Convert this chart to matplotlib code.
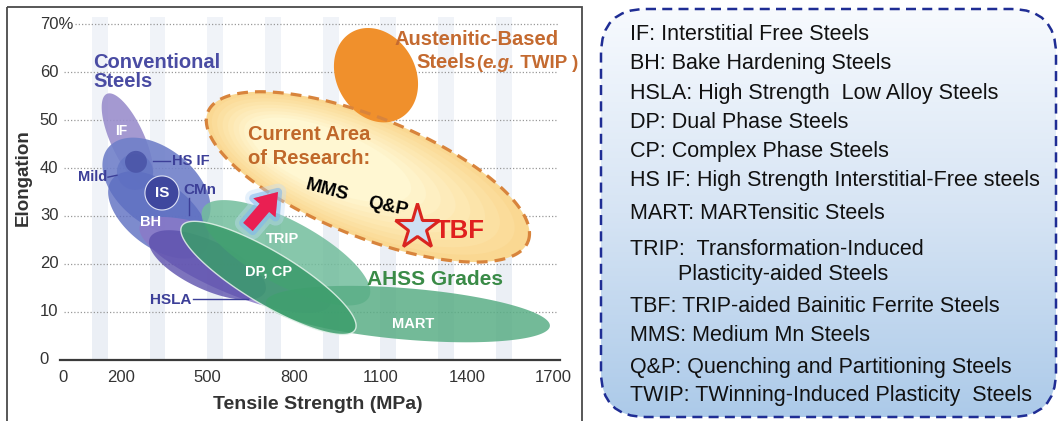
import numpy as np
import matplotlib
matplotlib.use("Agg")
import matplotlib.pyplot as plt
from matplotlib.patches import Polygon, Rectangle, FancyBboxPatch
import matplotlib.patheffects as pe

plt.rcParams['font.family'] = ['Liberation Sans', 'DejaVu Sans']

# axis ticks
x_ticks = [0, 200, 500, 800, 1100, 1400, 1700]
y_ticks = [0, 10, 20, 30, 40, 50, 60, 70]
y_tick_labels = ['0', '10', '20', '30', '40', '50', '60', '70%']
stripe_starts = [100, 300, 500, 700, 900, 1100, 1300, 1500]
stripe_width = 55

# steel families: long axis from (uts1, el1) to (uts2, el2), thickness = ratio * length
reg_names = ['Current', 'Austenitic', 'IF', 'Mild', 'HS IF ring', 'BH', 'HS IF', 'IS',
             'HSLA', 'HSLA core', 'TRIP', 'MART', 'DP, CP']
reg_uts1 = [502, 1001, 152, 156, 187, 170, 215, 284, 267, 301, 485, 703, 412]
reg_el1 = [51.7, 68.4, 55.5, 44.2, 39.2, 37.6, 41.3, 34.8, 28.1, 25.4, 31.6, 12.0, 27.9]
reg_uts2 = [1611, 1168, 295, 492, 312, 492, 291, 402, 925, 700, 1060, 1687, 1012]
reg_el2 = [24.6, 50.4, 36.5, 28.1, 39.2, 22.8, 41.3, 34.8, 11.4, 14.1, 13.0, 7.0, 6.2]
reg_ratio = [0.345, 0.8, 0.34, 0.62, 1.0, 0.55, 1.0, 1.0, 0.28, 0.38, 0.34, 0.18, 0.26]

# research targets
arrow_from = (641, 27.7)
arrow_to = (745, 35.0)
tbf_point = (1227, 27.7)

legend_lines = [
    'IF: Interstitial Free Steels',
    'BH: Bake Hardening Steels',
    'HSLA: High Strength  Low Alloy Steels',
    'DP: Dual Phase Steels',
    'CP: Complex Phase Steels',
    'HS IF: High Strength Interstitial-Free steels',
    'MART: MARTensitic Steels',
    'TRIP:  Transformation-Induced',
    '        Plasticity-aided Steels',
    'TBF: TRIP-aided Bainitic Ferrite Steels',
    'MMS: Medium Mn Steels',
    'Q&P: Quenching and Partitioning Steels',
    'TWIP: TWinning-Induced Plasticity  Steels',
]
legend_y = [32, 61, 91, 120, 149, 178, 211, 247, 272, 304, 333, 365, 393]

W, H = 1060, 421
fig = plt.figure(figsize=(W / 100, H / 100), dpi=100)
deco = fig.add_axes([0, 0, 1, 1], zorder=0)
ax = fig.add_axes([34.1 / W, (H - 373.9) / H, 548.4 / W, 363.8 / H], zorder=1)
ax.set_xlim(-100, 1800)
ax.set_ylim(-3, 73)
ax.axis('off')


def region(i, scale=1.0, shift=(0, 0), **kw):
    p = np.array([[reg_uts1[i], reg_el1[i]], [reg_uts2[i], reg_el2[i]]], float)
    mid = p.mean(axis=0)
    p = mid + scale * (p - mid) + np.array(shift)
    a = ax.transData.transform(p)
    c = a.mean(axis=0)
    d = a[1] - a[0]
    L = np.hypot(d[0], d[1]) / 2
    ang = np.arctan2(d[1], d[0])
    t = np.linspace(0, 2 * np.pi, 240)
    x = L * np.cos(t)
    y = reg_ratio[i] * L * np.sin(t)
    pts = np.column_stack([c[0] + x * np.cos(ang) - y * np.sin(ang),
                           c[1] + x * np.sin(ang) + y * np.cos(ang)])
    poly = Polygon(ax.transData.inverted().transform(pts), closed=True, **kw)
    ax.add_patch(poly)
    return poly


# background stripes + grid
for s in stripe_starts:
    ax.fill_between([s, s + stripe_width], 0, 71.5, color='#f0f3f8', lw=0, zorder=0.5)
    ax.fill_between([s, s + stripe_width], 0, 30, color='#ebeff5', lw=0, zorder=0.5)
for yv in y_ticks[1:]:
    ax.plot([40 if yv == 70 else 5, 1715], [yv, yv], ls=(0, (1, 1.6)), color='#999999',
            lw=0.9, zorder=1)
ax.plot([-10, 1722], [0, 0], color='#3a3a3a', lw=1.6, zorder=1, clip_on=False)
for xv in x_ticks:
    ax.text(xv, -3.7, str(xv), ha='center', va='center', fontsize=12, color='#333333')
for yv, lab in zip(y_ticks, y_tick_labels):
    ax.text(-80, yv, lab, ha='left', va='center', fontsize=12, color='#333333')
ax.text(884, -9.3, 'Tensile Strength (MPa)', ha='center', va='center', fontsize=14,
        fontweight='bold', color='#333333')
ax.text(-139, 38.1, 'Elongation', ha='center', va='center', rotation=90, fontsize=13.5,
        fontweight='bold', color='#333333')

# current area of research, glowing fill
edge_c = np.array([250, 216, 146]) / 255
core_c = np.array([255, 247, 210]) / 255
n = 9
for k in range(n):
    f = k / (n - 1)
    region(0, scale=1 - 0.5 * f, shift=(-130 * f, 3.5 * f),
           fc=tuple(edge_c + (core_c - edge_c) * f), ec='none', zorder=2)
region(0, fill=False, ec='#d8843c', lw=2.3, ls=(0, (3.4, 2.2)), zorder=2.5)

region(1, fc='#f0902c', ec='none', zorder=2)

styles = {
    'IF': dict(fc='#9a8ecc', alpha=0.9),
    'Mild': dict(fc='#7080c9', alpha=0.9),
    'HS IF ring': dict(fc='#6274c3', alpha=0.7),
    'BH': dict(fc='#5d6ec1', alpha=0.8),
    'HS IF': dict(fc='#4b55a8', alpha=0.9),
    'IS': dict(fc='#3f479e', ec='#dfe3f5', lw=0.8),
    'HSLA': dict(fc='#8b7ac8', alpha=0.85),
    'HSLA core': dict(fc='#5d51ad', alpha=0.8),
    'TRIP': dict(fc='#72bd9c', alpha=0.85),
    'MART': dict(fc='#5aae86', alpha=0.85),
    'DP, CP': dict(fc='#3b9d6b', alpha=0.85, ec='#e6f4ec', lw=1.0),
}
for i, name in enumerate(reg_names[2:], start=2):
    st = dict(ec='none')
    st.update(styles[name])
    region(i, zorder=3 + i * 0.01, **st)

# arrow and star
ax.annotate('', xy=arrow_to, xytext=arrow_from, zorder=6,
            arrowprops=dict(arrowstyle='simple,head_length=0.75,head_width=1.05,tail_width=0.45',
                            fc='#ea1f52', ec='none', mutation_scale=20, shrinkA=0, shrinkB=0,
                            path_effects=[pe.Stroke(linewidth=12, foreground='#c2ddf6', alpha=0.4),
                                          pe.Stroke(linewidth=6, foreground='#7db6ee', alpha=0.55),
                                          pe.Normal()]))
ax.plot([tbf_point[0]], [tbf_point[1]], marker='*', ms=34, mfc='#cde0f3', mec='#d9241f',
        mew=2.2, zorder=7)

# labels on the chart
blue = '#3c3f98'
bold = dict(fontweight='bold')
ax.text(104, 62.0, 'Conventional', color='#4a4ca3', fontsize=14.5, va='center', zorder=8, **bold)
ax.text(104, 58.0, 'Steels', color='#4a4ca3', fontsize=14.5, va='center', zorder=8, **bold)
ax.text(201, 47.7, 'IF', color='white', fontsize=10, ha='center', va='center', zorder=8, **bold)
ax.text(378, 41.5, 'HS IF', color=blue, fontsize=10.5, va='center', zorder=8, **bold)
ax.plot([312, 371], [41.5, 41.5], color=blue, lw=1, zorder=8)
ax.text(52, 38.1, 'Mild', color=blue, fontsize=10.5, va='center', zorder=8, **bold)
ax.plot([156, 187], [38.1, 38.5], color=blue, lw=1, zorder=8)
ax.text(343, 34.8, 'IS', color='white', fontsize=11, ha='center', va='center', zorder=8, **bold)
ax.text(416, 35.4, 'CMn', color=blue, fontsize=11, va='center', zorder=8, **bold)
ax.plot([437, 437], [33.7, 30.2], color=blue, lw=1, zorder=8)
ax.text(305, 28.7, 'BH', color='white', fontsize=10.5, ha='center', va='center', zorder=8, **bold)
ax.text(301, 12.4, 'HSLA', color=blue, fontsize=11, va='center', zorder=8, **bold)
ax.plot([450, 641], [12.6, 12.6], color=blue, lw=1, zorder=8)
ax.text(762, 25.2, 'TRIP', color='white', fontsize=10.5, ha='center', va='center', zorder=8, **bold)
ax.text(714, 18.3, 'DP, CP', color='white', fontsize=10.5, ha='center', va='center', zorder=8, **bold)
ax.text(1213, 7.4, 'MART', color='white', fontsize=10.5, ha='center', va='center', zorder=8, **bold)
ax.text(1053, 16.8, 'AHSS Grades', color='#3a8b47', fontsize=15, va='center', zorder=8, **bold)
ax.text(641, 47.1, 'Current Area', color='#c0682a', fontsize=14.5, va='center', zorder=8, **bold)
ax.text(641, 41.9, 'of Research:', color='#c0682a', fontsize=14.5, va='center', zorder=8, **bold)
ax.text(915, 35.4, 'MMS', rotation=-15, rotation_mode='anchor', ha='center', va='center',
        fontsize=13.5, color='black', zorder=8, **bold)
ax.text(1126, 31.9, 'Q&P', rotation=-12, rotation_mode='anchor', ha='center', va='center',
        fontsize=13.5, color='black', zorder=8, **bold)
ax.text(1376, 26.8, 'TBF', color='#e0201e', fontsize=18.5, ha='center', va='center', zorder=8, **bold)
orange = '#c46a30'
ax.text(1150, 66.8, 'Austenitic-Based', color=orange, fontsize=14.5, va='center', zorder=8, **bold)
t1 = ax.text(1226, 62.0, 'Steels', color=orange, fontsize=14.5, va='center', zorder=8, **bold)
t2 = ax.annotate('(', xy=(1, 0), xycoords=t1, va='bottom', color=orange, fontsize=13.5,
                 zorder=8, **bold)
t3 = ax.annotate('e.g.', xy=(1, 0), xycoords=t2, va='bottom', color=orange, fontsize=13.5,
                 fontstyle='italic', zorder=8, **bold)
ax.annotate(' TWIP )', xy=(1, 0), xycoords=t3, va='bottom', color=orange, fontsize=13.5,
            zorder=8, **bold)

# frame of the left panel
deco.add_patch(Rectangle((7, 7), 575, 440, fill=False, ec='#4a4a4a', lw=1.3, zorder=5))

# abbreviation box on the right
box_fill = FancyBboxPatch((601, 9), 455, 408, boxstyle='round,pad=0,rounding_size=45',
                          fc='none', ec='none', zorder=1)
deco.add_patch(box_fill)
stops = np.array([[247, 250, 254], [214, 228, 244], [172, 202, 233]]) / 255
g = np.linspace(0, 1, 256)
grad = np.stack([np.interp(g, [0, 0.5, 1], stops[:, c]) for c in range(3)], axis=-1)[:, None, :]
im = deco.imshow(grad, extent=[601, 1056, 417, 9], aspect='auto', zorder=1,
                 interpolation='bilinear')
im.set_clip_path(box_fill)
deco.add_patch(FancyBboxPatch((601, 9), 455, 408, boxstyle='round,pad=0,rounding_size=45',
                              fc='none', ec='#1f2d94', lw=1.8, ls=(0, (4, 2.5)), zorder=3))
for line, yc in zip(legend_lines, legend_y):
    deco.text(630, yc + 7.7, line, fontsize=15.5, color='#111111', va='baseline', ha='left',
              zorder=4)

deco.set_xlim(0, W)
deco.set_ylim(H, 0)
deco.axis('off')

fig.savefig('out.png', dpi=100)
